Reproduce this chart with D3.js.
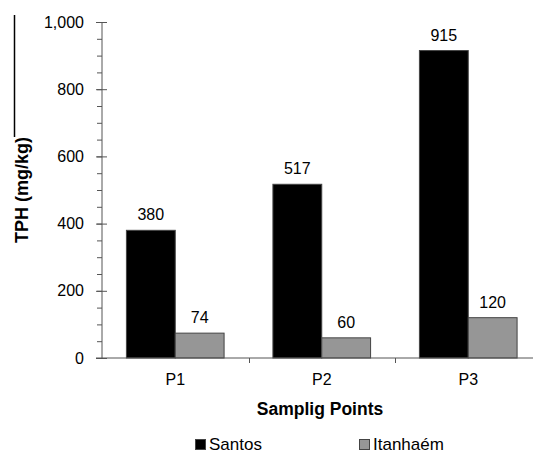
<!DOCTYPE html>
<html>
<head>
<meta charset="utf-8">
<script src="https://cdn.jsdelivr.net/npm/d3@7"></script>
<style>
  html, body { margin: 0; padding: 0; background: #fff; }
  svg { display: block; }
  text { font-family: "Liberation Sans", Arial, sans-serif; fill: #000; }
</style>
</head>
<body>
<svg id="chart" width="533" height="453"></svg>
<script>
const categories = ["P1", "P2", "P3"];
const seriesNames = ["Santos", "Itanhaém"];
const santos = [380, 517, 915];
const itanhaem = [74, 60, 120];
const yTicks = [0, 200, 400, 600, 800, 1000];
const yMinorTicks = d3.range(0, 1001, 50);
const colors = ["#000000", "#969696"];

const svg = d3.select("#chart");
const mLeft = 102, mRight = 541.5, mTop = 22, mBottom = 358;

const x = d3.scaleBand().domain(categories).range([mLeft, mRight]).paddingInner(0).paddingOuter(0);
const xs = d3.scaleBand().domain(seriesNames).range([0, x.bandwidth()]).paddingInner(0).paddingOuter(0.5);
const y = d3.scaleLinear().domain([0, 1000]).range([mBottom, mTop]);
const color = d3.scaleOrdinal().domain(seriesNames).range(colors);

const data = categories.map((c, i) => ({ cat: c, values: [
  { s: seriesNames[0], v: santos[i] },
  { s: seriesNames[1], v: itanhaem[i] }
]}));

// decorative vertical line at left (from the source image)
svg.append("line").attr("x1", 14.5).attr("x2", 14.5).attr("y1", 15).attr("y2", 137)
  .attr("stroke", "#000").attr("stroke-width", 1.5);

// bars
const g = svg.append("g");
const groups = g.selectAll("g.cat").data(data).join("g")
  .attr("transform", d => `translate(${x(d.cat)},0)`);
groups.selectAll("rect").data(d => d.values).join("rect")
  .attr("x", d => xs(d.s))
  .attr("y", d => y(d.v))
  .attr("width", xs.bandwidth())
  .attr("height", d => y(0) - y(d.v))
  .attr("fill", d => color(d.s))
  .attr("stroke", "#444")
  .attr("stroke-width", 1);
groups.selectAll("text.val").data(d => d.values).join("text")
  .attr("class", "val")
  .attr("x", d => xs(d.s) + xs.bandwidth() / 2)
  .attr("y", d => y(d.v) - 10)
  .attr("text-anchor", "middle")
  .style("font-size", "16px")
  .text(d => d.v);

// y minor ticks
const yMinor = svg.append("g").attr("transform", `translate(${mLeft},0)`)
  .call(d3.axisLeft(y).tickValues(yMinorTicks).tickSize(5).tickFormat(""));
yMinor.select(".domain").remove();
yMinor.selectAll("line").attr("stroke", "#555");

// y major axis
const yAxis = svg.append("g").attr("transform", `translate(${mLeft},0)`)
  .call(d3.axisLeft(y).tickValues(yTicks).tickSize(6).tickPadding(12).tickFormat(d3.format(",")));
yAxis.select(".domain").attr("stroke", "#555").attr("d", `M0,${mTop}V${mBottom}`);
yAxis.selectAll(".tick line").attr("stroke", "#555").attr("x1", 5);
yAxis.selectAll(".tick text").style("font-size", "16px").attr("font-family", null);

// x axis
const xAxis = svg.append("g").attr("transform", `translate(0,${mBottom})`)
  .call(d3.axisBottom(x).tickSize(0).tickPadding(16));
xAxis.select(".domain").attr("stroke", "#555").attr("d", `M96,0H533`);
xAxis.selectAll(".tick text").style("font-size", "16px").attr("font-family", null);
// category separator ticks
svg.append("g").selectAll("line").data(categories.slice(1)).join("line")
  .attr("x1", d => Math.round(x(d)) + 0.5).attr("x2", d => Math.round(x(d)) + 0.5)
  .attr("y1", mBottom).attr("y2", mBottom + 5)
  .attr("stroke", "#555");

// axis titles
svg.append("text")
  .attr("transform", "translate(28,190) rotate(-90)")
  .attr("text-anchor", "middle")
  .style("font-size", "18px").style("font-weight", "bold")
  .text("TPH (mg/kg)");
svg.append("text")
  .attr("x", 320).attr("y", 415)
  .attr("text-anchor", "middle")
  .style("font-size", "17.5px").style("font-weight", "bold")
  .text("Samplig Points");

// legend
const legendX = [195, 359];
const leg = svg.append("g").selectAll("g").data(seriesNames).join("g")
  .attr("transform", (d, i) => `translate(${legendX[i]},439)`);
leg.append("rect").attr("x", 0.5).attr("y", 0.5).attr("width", 10).attr("height", 10)
  .attr("fill", d => color(d)).attr("stroke", "#444");
leg.append("text").attr("x", 14).attr("y", 11)
  .style("font-size", "17px")
  .text(d => d);
</script>
</body>
</html>
